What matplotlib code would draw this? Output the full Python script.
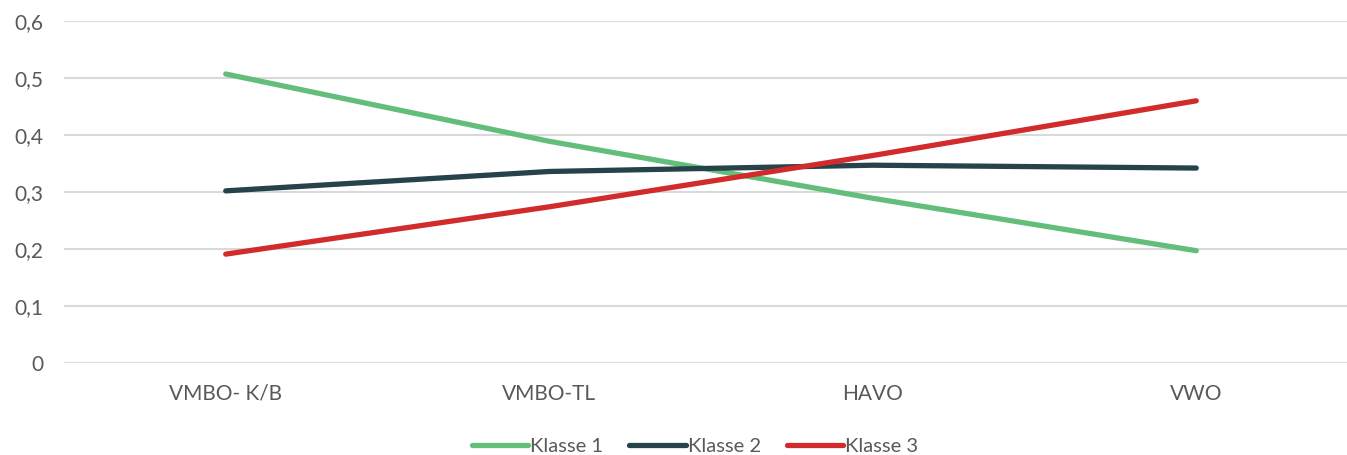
import matplotlib
matplotlib.use("Agg")
import matplotlib.pyplot as plt
from matplotlib.ticker import FuncFormatter

categories = ["VMBO- K/B", "VMBO-TL", "HAVO", "VWO"]
klasse1 = [0.507, 0.389, 0.289, 0.197]
klasse2 = [0.302, 0.336, 0.347, 0.342]
klasse3 = [0.191, 0.274, 0.364, 0.460]
series_names = ["Klasse 1", "Klasse 2", "Klasse 3"]
yticks = [0, 0.1, 0.2, 0.3, 0.4, 0.5, 0.6]

colors = ["#63BE7B", "#254349", "#D22B2B"]
plt.rcParams['font.family'] = ['Lato', 'DejaVu Sans']

W, H = 1347, 455
fig = plt.figure(figsize=(W / 100, H / 100), dpi=100)
left_px, right_px, top_px, bottom_px = 64, 1347, 21, 363
ax = fig.add_axes([left_px / W, 1 - bottom_px / H, (right_px - left_px) / W, (bottom_px - top_px) / H])

x = list(range(len(categories)))
for vals, name, c in zip([klasse1, klasse2, klasse3], series_names, colors):
    ax.plot(x, vals, color=c, lw=3.8, solid_capstyle='round', solid_joinstyle='round', label=name, zorder=3)

ax.set_ylim(0, 0.6)
ax.set_xlim(-0.5, 3 + (1347 - 1196) / 324)
ax.set_yticks(yticks)
ax.yaxis.set_major_formatter(FuncFormatter(lambda v, p: "0" if v == 0 else f"{v:.1f}".replace(".", ",")))
ax.set_xticks(x)
ax.set_xticklabels(categories)
ax.grid(axis='y', color='#D9D9D9', lw=1.5, zorder=0)
ax.set_axisbelow(True)
for s in ax.spines.values():
    s.set_visible(False)
ax.tick_params(axis='both', length=0, labelsize=15, colors='#595959')
ax.tick_params(axis='y', pad=15)
ax.tick_params(axis='x', pad=15)

leg = fig.legend(loc='center', bbox_to_anchor=(695 / W, 1 - 446 / H), ncol=3, frameon=False,
                 fontsize=14.5, handlelength=2.8, handletextpad=0.1, columnspacing=1.3,
                 labelcolor='#595959')

fig.savefig("out.png", dpi=100, facecolor='white')
